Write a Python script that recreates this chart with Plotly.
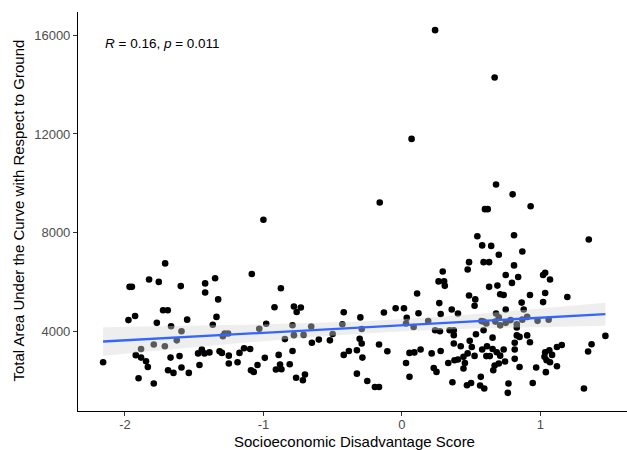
import numpy as np
import plotly.graph_objects as go

# Socioeconomic disadvantage score (x) and total AUC with respect to ground (y)
disadvantage_score = [
    0.24, 0.67, 0.07, 0.68, 0.80, 0.93, 0.60, 0.62, -0.16, -1.00,
    0.545, 0.81, 1.35, 0.58, 0.645, 0.70, 0.87, 0.59, 0.63, 0.81,
    0.75, 0.84, 0.795, 1.02, 1.035, 1.07, 0.63, 0.69, 0.71, 0.735,
    0.925, 1.035, 1.02, 1.195, 0.865, 0.88, 0.75, 0.68, 0.70, 0.675,
    0.61, 0.59, 0.71, 0.75, 0.785, 0.83, 0.87, 0.905, 0.98, 1.06,
    0.83, 0.59, 0.83, 0.85, 0.655, 0.905, 0.925, 0.815, 0.58, 0.615,
    0.655, 0.61, 0.635, 0.685, 0.71, 0.735, 0.70, 0.745, 0.67, 0.66,
    0.815, 0.815, 0.85, 0.97, 1.035, 1.065, 1.085, 1.03, 1.045, 1.07,
    1.04, 1.12, 1.12, 1.155, 1.37, 1.345, 1.47, 0.77, 0.765, 0.945,
    1.315, 0.485, 0.475, 0.295, 0.265, 0.305, 0.31, 0.11, 0.485, 0.53,
    0.525, 0.27, -0.045, 0.015, -0.13, 0.12, 0.28, 0.36, 0.405, -0.30,
    0.035, 0.19, 0.03, 0.085, 0.24, 0.275, 0.345, 0.375, -0.29, 0.575,
    0.535, -0.305, -0.29, -0.165, -0.325, -0.105, -0.285, 0.055, 0.09, 0.135,
    0.215, 0.28, 0.03, -0.325, -0.25, -0.195, -0.165, 0.055, 0.23, 0.25,
    0.375, 0.375, 0.425, 0.49, 0.505, 0.475, 0.525, 0.335, 0.38, 0.405,
    0.445, 0.455, 0.445, 0.365, 0.47, 0.50, 0.565, 0.57, 0.595, -1.28,
    -1.255, -1.03, -0.98, -0.79, -0.655, -0.43, -0.78, -0.71, -0.845, -0.50,
    -0.52, -0.65, -0.60, -1.317, -1.30, -1.25, -1.25, -1.187, -1.173, -1.14,
    -1.096, -0.99, -0.89, -0.79, -1.09, -1.07, -1.043, -0.91, -0.88, -0.87,
    -0.81, -0.764, -0.715, -0.70, -0.42, -0.383, -1.084, -0.874, -0.92, -0.78,
    -0.73, -0.76, -0.42, -1.71, -1.967, -1.95, -1.826, -1.756, -1.597, -1.421,
    -1.349, -1.421, -1.327, -1.927, -1.975, -1.725, -1.691, -1.77, -1.667, -1.551,
    -1.339, -1.366, -1.592, -1.884, -1.792, -1.712, -1.626, -2.158, -1.922, -1.884,
    -1.848, -1.835, -1.671, -1.606, -1.689, -1.65, -1.592, -1.539, -1.462, -1.902,
    -1.792, -1.472, -1.445, -1.426, -1.39, -1.293,
]
total_auc = [
    16210, 14290, 11800, 9950, 9550, 9070, 8950, 8950, 9220, 8520,
    7850, 7890, 7720, 7480, 7460, 7100, 7230, 6800, 6800, 6670,
    6280, 6200, 5960, 6280, 6370, 6100, 5800, 5850, 5500, 5470,
    5470, 5550, 5180, 5390, 5160, 4880, 4880, 4720, 4560, 4390,
    4310, 4390, 4240, 4340, 4450, 4280, 4470, 4580, 4420, 4470,
    4150, 4040, 3830, 3770, 3740, 3830, 3550, 3530, 3260, 3390,
    3280, 2990, 2990, 3150, 3010, 3260, 2690, 2770, 2610, 2420,
    3260, 2880, 2550, 2530, 3150, 3230, 3040, 2960, 2820, 2740,
    2340, 2580, 3360, 3440, 3470, 3180, 3810, 1880, 1500, 1900,
    1680, 6800, 6500, 6420, 6020, 6020, 5840, 5530, 5450, 5290,
    5030, 5140, 4930, 4930, 4760, 4730, 4700, 4880, 4720, 4560,
    4540, 4410, 4310, 4170, 4040, 4000, 4040, 4040, 4090, 4410,
    3880, 3690, 3500, 3460, 3230, 3190, 2930, 3120, 3140, 3260,
    3100, 3200, 2710, 2280, 1980, 1740, 1740, 2150, 2510, 2350,
    3500, 3840, 3390, 3610, 3360, 3100, 3000, 2710, 2820, 2850,
    2960, 2710, 2490, 1930, 1810, 1900, 1800, 2150, 1680, 3910,
    3910, 4100, 4300, 4240, 4190, 4280, 3840, 3850, 3680, 3890,
    3630, 3530, 3660, 3190, 3120, 3010, 2690, 2740, 3120, 3310,
    3280, 2920, 3040, 3200, 2420, 2350, 2630, 2450, 2650, 2460,
    2660, 2110, 2010, 2240, 3040, 3200, 6320, 5740, 4970, 5000,
    4960, 4780, 4770, 6750, 5800, 5800, 6100, 6000, 5830, 5940,
    6150, 5570, 5290, 4620, 4450, 4850, 4850, 4340, 4200, 4470,
    4580, 4260, 4000, 3280, 3460, 3390, 3630, 2740, 3030, 2930,
    2780, 2550, 2930, 2990, 2420, 2310, 2530, 2310, 2630, 2090,
    1880, 3100, 3260, 3100, 3140, 3800,
]

x_tick_vals = [-2, -1, 0, 1]
x_tick_text = ["-2", "-1", "0", "1"]
y_tick_vals = [4000, 8000, 12000, 16000]
y_tick_text = ["4000", "8000", "12000", "16000"]
stat_label = "<i>R</i> = 0.16, <i>p</i> = 0.011"
x_title = "Socioeconomic Disadvantage Score"
y_title = "Total Area Under the Curve with Respect to Ground"

x = np.array(disadvantage_score, dtype=float)
y = np.array(total_auc, dtype=float)

# linear model with 95% confidence band (like geom_smooth(method = "lm"))
n = len(x)
slope, intercept = np.polyfit(x, y, 1)
resid = y - (intercept + slope * x)
sigma = np.sqrt(np.sum(resid ** 2) / (n - 2))
xbar = x.mean()
sxx = np.sum((x - xbar) ** 2)
t975 = 1.9698
grid = np.linspace(x.min(), x.max(), 80)
fit = intercept + slope * grid
se = sigma * np.sqrt(1.0 / n + (grid - xbar) ** 2 / sxx)
upper = fit + t975 * se
lower = fit - t975 * se

FONT = "Liberation Sans, Arial, sans-serif"

fig = go.Figure()
fig.add_trace(go.Scatter(
    x=x, y=y, mode="markers",
    marker=dict(color="black", size=6.6, line=dict(width=0)),
    showlegend=False, hoverinfo="skip",
))
fig.add_trace(go.Scatter(
    x=np.concatenate([grid, grid[::-1]]),
    y=np.concatenate([upper, lower[::-1]]),
    fill="toself", fillcolor="rgba(215,215,215,0.42)",
    line=dict(width=0), mode="lines", showlegend=False, hoverinfo="skip",
))
fig.add_trace(go.Scatter(
    x=grid, y=fit, mode="lines",
    line=dict(color="#3366FF", width=2.3),
    showlegend=False, hoverinfo="skip",
))

# ggplot-like 5% expansion
xr = x.max() - x.min()
yr = y.max() - y.min()
x_lo = x.min() - 0.05 * xr
y_lo = y.min() - 0.05 * yr
y_hi = y.max() + 0.05 * yr

fig.add_annotation(
    x=x.min(), y=y.max(), xref="x", yref="y",
    text=stat_label, showarrow=False,
    xanchor="left", yanchor="top", yshift=-4,
    font=dict(family=FONT, size=13.5, color="black"),
)
fig.add_annotation(
    x=0.5, y=0, xref="paper", yref="paper",
    text=x_title, showarrow=False,
    xanchor="center", yanchor="middle", xshift=2, yshift=-30,
    font=dict(family=FONT, size=15, color="black"),
)
fig.add_annotation(
    x=0, y=0.5, xref="paper", yref="paper",
    text=y_title, showarrow=False, textangle=-90,
    xanchor="center", yanchor="middle", xshift=-60, yshift=1,
    font=dict(family=FONT, size=15, color="black"),
)

fig.update_layout(
    width=627, height=450, autosize=False,
    margin=dict(l=78, r=0, t=12, b=39, autoexpand=False),
    paper_bgcolor="white", plot_bgcolor="white",
    font=dict(family=FONT),
    xaxis=dict(
        range=[x_lo, 1.626], automargin=False,
        tickvals=x_tick_vals, ticktext=x_tick_text,
        showgrid=False, zeroline=False,
        showline=True, linecolor="black", linewidth=1.1,
        ticks="outside", ticklen=4, tickwidth=1.1, tickcolor="#333333",
        tickfont=dict(size=13, color="#4d4d4d"),
        ticklabelstandoff=-3,
    ),
    yaxis=dict(
        range=[y_lo, y_hi], automargin=False,
        tickvals=y_tick_vals, ticktext=y_tick_text,
        showgrid=False, zeroline=False,
        showline=True, linecolor="black", linewidth=1.1,
        ticks="outside", ticklen=4, tickwidth=1.1, tickcolor="#333333",
        tickfont=dict(size=13, color="#4d4d4d"),
    ),
)

fig.write_html(
    "out.html",
    config={"displayModeBar": False},
    post_script="document.body.style.margin='0px';document.body.style.overflow='hidden';",
)
